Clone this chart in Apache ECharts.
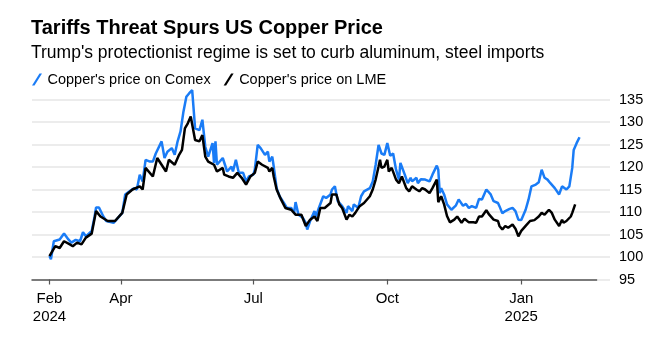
<!DOCTYPE html>
<html>
<head>
<meta charset="utf-8">
<script src="https://cdn.jsdelivr.net/npm/echarts@6/dist/echarts.min.js"></script>
<style>
  html, body { margin: 0; padding: 0; background: #fff; }
  #chart { width: 667px; height: 339px; }
</style>
</head>
<body>
<div id="chart"></div>
<script>
const titleText = "Tariffs Threat Spurs US Copper Price";
const subtitleText = "Trump's protectionist regime is set to curb aluminum, steel imports";
const seriesNames = ["Copper's price on Comex", "Copper's price on LME"];

const tickDates = ['2024-02-12', '2024-04-01', '2024-07-01', '2024-10-01', '2025-01-01'];
const tickLabels = ['Feb\n2024', 'Apr', 'Jul', 'Oct', 'Jan\n2025'];
const axisStart = '2024-01-31';
const axisEnd = '2025-02-22';
const yMin = 95, yMax = 135, yStep = 5;

const comexDates = [
 '2024-02-12','2024-02-13','2024-02-15','2024-02-19','2024-02-22','2024-02-25','2024-02-27','2024-03-01','2024-03-04','2024-03-06',
 '2024-03-08','2024-03-12','2024-03-14','2024-03-15','2024-03-17','2024-03-20','2024-03-22','2024-03-27','2024-03-29','2024-04-02',
 '2024-04-04','2024-04-07','2024-04-10','2024-04-12','2024-04-14','2024-04-16','2024-04-18','2024-04-21','2024-04-23','2024-04-25',
 '2024-04-29','2024-05-01','2024-05-03','2024-05-06','2024-05-08','2024-05-10','2024-05-12','2024-05-14','2024-05-15','2024-05-16',
 '2024-05-18','2024-05-20','2024-05-22','2024-05-25','2024-05-27','2024-05-29','2024-05-31','2024-06-03','2024-06-04','2024-06-05',
 '2024-06-06','2024-06-10','2024-06-11','2024-06-13','2024-06-16','2024-06-17','2024-06-19','2024-06-21','2024-06-24','2024-06-26',
 '2024-06-28','2024-07-01','2024-07-02','2024-07-04','2024-07-06','2024-07-09','2024-07-11','2024-07-12','2024-07-14','2024-07-15',
 '2024-07-17','2024-07-19','2024-07-22','2024-07-24','2024-07-27','2024-07-29','2024-07-30','2024-08-01','2024-08-04','2024-08-06',
 '2024-08-07','2024-08-09','2024-08-12','2024-08-13','2024-08-15','2024-08-18','2024-08-20','2024-08-23','2024-08-24','2024-08-26',
 '2024-08-28','2024-08-31','2024-09-03','2024-09-04','2024-09-07','2024-09-08','2024-09-11','2024-09-13','2024-09-15','2024-09-19',
 '2024-09-21','2024-09-23','2024-09-25','2024-09-27','2024-09-29','2024-10-01','2024-10-03','2024-10-05','2024-10-07','2024-10-09',
 '2024-10-10','2024-10-13','2024-10-15','2024-10-17','2024-10-18','2024-10-21','2024-10-22','2024-10-24','2024-10-27','2024-10-30',
 '2024-11-01','2024-11-04','2024-11-05','2024-11-06','2024-11-07','2024-11-09','2024-11-11','2024-11-14','2024-11-17','2024-11-19',
 '2024-11-22','2024-11-24','2024-11-26','2024-11-28','2024-12-01','2024-12-03','2024-12-05','2024-12-08','2024-12-11','2024-12-13',
 '2024-12-16','2024-12-17','2024-12-19','2024-12-21','2024-12-24','2024-12-26','2024-12-28','2024-12-30','2025-01-01','2025-01-04',
 '2025-01-06','2025-01-08','2025-01-11','2025-01-13','2025-01-15','2025-01-17','2025-01-19','2025-01-21','2025-01-24','2025-01-27',
 '2025-01-29','2025-02-01','2025-02-03','2025-02-05','2025-02-06','2025-02-08','2025-02-10'
];
const comexValues = [
 100.2,99.5,103.5,103.9,105.2,103.9,103.2,103.8,103.5,105.5,
 104.6,105.8,109,111,111,109,108,107.6,108.3,109.8,
 113.9,114.6,115.3,115,118.3,116.8,121.6,121.2,121.2,123,
 125.7,122,123.4,124.2,122.7,125.7,127.9,132.3,131.9,135.6,
 136.4,137.1,128.6,128.2,130.5,124.5,122.3,125.3,120.9,125.7,
 120.5,122,122.3,119,120.1,119,121.6,118.7,118.7,116.8,
 117.9,118.3,119.4,124.9,124.2,122.7,123.4,121.2,122.3,120.1,
 115.3,113.5,112,110.9,110.9,109.8,112.2,109.4,108.7,107.6,
 106.1,108,110.2,109,110.9,113.5,113.1,113.9,115,115.7,
 112.4,111.3,109.8,111.3,110.2,111.7,110.9,113.5,114.6,115.3,
 116.8,120.5,124.9,123,122.7,125.3,122.5,123,119.4,117.2,
 120.9,118.3,116.4,117.6,116.8,117.6,116.4,117.3,117.2,116.8,
 118.3,120.3,119.4,114.2,115.3,113.9,111.7,110.5,111.4,112.8,
 111.4,111.8,110.9,111.3,110.9,112.9,112.8,115,113.9,112.4,
 112,111.3,109.7,110.2,110.7,110.9,110.2,108.3,108.2,110.5,
 112.8,115.7,116.1,116.6,119.4,117.6,117.2,116.4,115.3,113.9,
 115.7,115,115.7,119.8,123.8,125.3,126.6
];

const lmeDates = [
 '2024-02-12','2024-02-13','2024-02-16','2024-02-19','2024-02-22','2024-02-26','2024-02-28','2024-03-02','2024-03-05','2024-03-08',
 '2024-03-12','2024-03-15','2024-03-18','2024-03-23','2024-03-28','2024-04-02','2024-04-05','2024-04-09','2024-04-14','2024-04-16',
 '2024-04-18','2024-04-23','2024-04-26','2024-04-29','2024-05-02','2024-05-04','2024-05-08','2024-05-11','2024-05-13','2024-05-15',
 '2024-05-17','2024-05-19','2024-05-22','2024-05-25','2024-05-27','2024-05-29','2024-05-31','2024-06-04','2024-06-06','2024-06-10',
 '2024-06-11','2024-06-14','2024-06-17','2024-06-20','2024-06-23','2024-06-26','2024-06-29','2024-07-02','2024-07-04','2024-07-07',
 '2024-07-11','2024-07-12','2024-07-14','2024-07-15','2024-07-17','2024-07-20','2024-07-23','2024-07-27','2024-07-30','2024-08-03',
 '2024-08-06','2024-08-09','2024-08-12','2024-08-14','2024-08-16','2024-08-19','2024-08-23','2024-08-24','2024-08-27','2024-08-29',
 '2024-08-31','2024-09-03','2024-09-05','2024-09-07','2024-09-09','2024-09-12','2024-09-15','2024-09-19','2024-09-21','2024-09-23',
 '2024-09-25','2024-09-26','2024-09-27','2024-09-29','2024-10-01','2024-10-02','2024-10-04','2024-10-07','2024-10-09','2024-10-11',
 '2024-10-14','2024-10-16','2024-10-18','2024-10-21','2024-10-23','2024-10-25','2024-10-27','2024-10-30','2024-11-01','2024-11-04',
 '2024-11-05','2024-11-07','2024-11-09','2024-11-11','2024-11-13','2024-11-16','2024-11-18','2024-11-21','2024-11-23','2024-11-26',
 '2024-11-29','2024-12-01','2024-12-03','2024-12-05','2024-12-08','2024-12-10','2024-12-13','2024-12-16','2024-12-17','2024-12-19',
 '2024-12-21','2024-12-23','2024-12-26','2024-12-28','2024-12-30','2025-01-01','2025-01-04','2025-01-07','2025-01-10','2025-01-13',
 '2025-01-15','2025-01-17','2025-01-20','2025-01-22','2025-01-24','2025-01-27','2025-01-29','2025-01-30','2025-02-01','2025-02-04',
 '2025-02-05','2025-02-07'
];
const lmeValues = [
 100.2,100.6,102.4,102,103.5,102.8,102.4,103.2,102.8,104.3,
 105.2,110.2,109,108,108,109.8,113.9,115,115.7,115,
 119.8,117.9,122,120.5,119,121.6,120.5,122.7,123.8,128.6,
 129.7,131.2,126,125.7,127.1,122.3,121.2,120.5,119,119.8,
 118.3,117.9,117.6,118.7,117.6,116.1,117.9,118.7,121.2,120.5,
 119.8,119,119.8,117.9,115,112.8,110.9,110.5,109.4,109.4,
 106.9,108.3,109,108,110.9,110.9,112,113.9,113.9,111.7,
 110.9,108.3,109.4,109,109.8,111.3,112,113.5,115,117.2,
 120.1,121.6,119.8,120.1,121.6,119,119.8,117.2,116.4,117.9,
 115.3,114.6,115.7,115,114.6,115.3,115,114.2,115.3,117.2,
 112.2,113.5,111.7,109.1,107.7,108.3,109,107.6,108.5,107.7,
 107.7,107.6,109,109,110.4,109.4,108.3,108,106.9,106.1,
 106.9,106.5,107.2,106.3,104.6,105.8,106.9,108,108.2,109,
 109.8,109.4,110.5,109.8,108.3,106.9,108.3,107.6,108,109,
 109.8,111.7
];

const COMEX_COLOR = '#1a7cf6';
const LME_COLOR = '#000000';
const FONT = "'Liberation Sans', Arial, Helvetica, sans-serif";

function ts(s) {
  const p = s.split('-').map(Number);
  return Date.UTC(p[0], p[1] - 1, p[2]);
}
const tickTs = tickDates.map(ts);
const labelByTs = {};
tickTs.forEach((t, i) => { labelByTs[t] = tickLabels[i]; });

const slashIcon = 'path://M0,12 L7.5,0 L10,0 L2.5,12 Z';

const chart = echarts.init(document.getElementById('chart'), null, { renderer: 'canvas' });
chart.setOption({
  animation: false,
  backgroundColor: '#ffffff',
  textStyle: { fontFamily: FONT },
  title: [
    { text: titleText, left: 31, top: 18, padding: 0,
      textStyle: { fontFamily: FONT, fontSize: 20, fontWeight: 'bold', color: '#000' } },
    { text: subtitleText, left: 31, top: 44, padding: 0,
      textStyle: { fontFamily: FONT, fontSize: 17.5, fontWeight: 'normal', color: '#000' } }
  ],
  legend: {
    left: 32, top: 72, padding: 0,
    itemWidth: 11, itemHeight: 12, itemGap: 13,
    data: [
      { name: seriesNames[0], icon: slashIcon, itemStyle: { color: COMEX_COLOR } },
      { name: seriesNames[1], icon: slashIcon, itemStyle: { color: LME_COLOR } }
    ],
    textStyle: { fontFamily: FONT, fontSize: 14.5, color: '#000' }
  },
  grid: { left: 32, right: 70, top: 99.5, bottom: 59.5, containLabel: false },
  xAxis: {
    type: 'value',
    min: ts(axisStart), max: ts(axisEnd),
    splitLine: { show: false },
    axisLine: { show: true, lineStyle: { color: '#555', width: 1.5 } },
    axisTick: { show: true, customValues: tickTs, length: 5, lineStyle: { color: '#555', width: 1.2 } },
    axisLabel: {
      customValues: tickTs,
      formatter: function (v) { return labelByTs[v] !== undefined ? labelByTs[v] : ''; },
      fontFamily: FONT, fontSize: 15, color: '#000', lineHeight: 18.5, margin: 10,
      hideOverlap: false, showMinLabel: true, showMaxLabel: true
    }
  },
  yAxis: {
    type: 'value', position: 'right',
    min: yMin, max: yMax, interval: yStep,
    axisLine: { show: false },
    axisTick: { show: true, length: 13, lineStyle: { color: '#e6e6e6', width: 1.5 } },
    splitLine: { show: true, lineStyle: { color: '#e6e6e6', width: 1.5 } },
    axisLabel: { fontFamily: FONT, fontSize: 14.5, color: '#000', margin: 22 }
  },
  series: [
    { name: seriesNames[0], type: 'line', showSymbol: false, symbol: 'none', clip: false,
      data: comexDates.map((d, i) => [ts(d), comexValues[i]]),
      lineStyle: { color: COMEX_COLOR, width: 2.5 }, itemStyle: { color: COMEX_COLOR }, z: 3 },
    { name: seriesNames[1], type: 'line', showSymbol: false, symbol: 'none', clip: false,
      data: lmeDates.map((d, i) => [ts(d), lmeValues[i]]),
      lineStyle: { color: LME_COLOR, width: 2.5 }, itemStyle: { color: LME_COLOR }, z: 4 }
  ]
});
</script>
</body>
</html>
